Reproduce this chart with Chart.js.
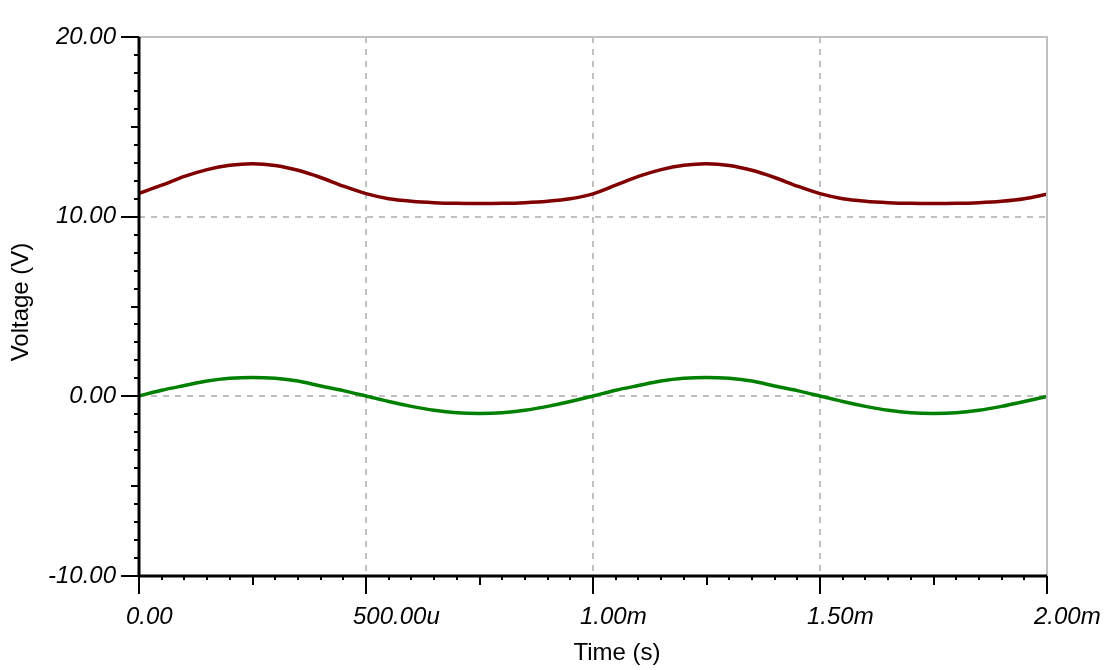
<!DOCTYPE html>
<html>
<head>
<meta charset="utf-8">
<script src="https://cdn.jsdelivr.net/npm/chart.js@4"></script>
<style>
  html, body { margin: 0; padding: 0; background: #fff; }
  #chart { display: block; }
</style>
</head>
<body>
<canvas id="chart" width="1108" height="670"></canvas>
<script>
// ===== Data (time in ms, voltage in V) =====
const timeMs = [
  0.00, 0.05, 0.10, 0.15, 0.20, 0.25, 0.30, 0.35, 0.40, 0.45,
  0.50, 0.55, 0.60, 0.65, 0.70, 0.75, 0.80, 0.85, 0.90, 0.95,
  1.00, 1.05, 1.10, 1.15, 1.20, 1.25, 1.30, 1.35, 1.40, 1.45,
  1.50, 1.55, 1.60, 1.65, 1.70, 1.75, 1.80, 1.85, 1.90, 1.95,
  2.00
];

const outputV = [
  11.30, 11.75, 12.24, 12.62, 12.86, 12.95, 12.85, 12.58, 12.18, 11.70,
  11.28, 11.00, 10.86, 10.78, 10.74, 10.73, 10.74, 10.78, 10.86, 11.00,
  11.27, 11.75, 12.24, 12.62, 12.86, 12.95, 12.85, 12.58, 12.18, 11.70,
  11.28, 11.00, 10.86, 10.78, 10.74, 10.73, 10.74, 10.78, 10.86, 11.00,
  11.25
];

const inputV = [
  0.02, 0.34, 0.60, 0.85, 1.00, 1.05, 1.00, 0.85, 0.58, 0.32,
  0.02, -0.29, -0.56, -0.78, -0.92, -0.96, -0.92, -0.78, -0.56, -0.29,
  0.02, 0.34, 0.60, 0.85, 1.00, 1.05, 1.00, 0.85, 0.58, 0.32,
  0.02, -0.29, -0.56, -0.78, -0.92, -0.96, -0.92, -0.78, -0.56, -0.29,
  0.00
];

const xTickLabels = ["0.00", "500.00u", "1.00m", "1.50m", "2.00m"];
const yTickLabels = ["-10.00", "0.00", "10.00", "20.00"];

const FONT = "'Liberation Sans', Arial, sans-serif";

function toPoints(ys) {
  return timeMs.map((t, i) => ({ x: t, y: ys[i] }));
}

// ===== Axes, ticks, borders and titles =====
const scopeFrame = {
  id: "scopeFrame",
  afterDraw(chart) {
    const { ctx, chartArea: a, scales: { x, y } } = chart;
    ctx.save();

    // gray top / right border
    ctx.strokeStyle = "#c0c0c0";
    ctx.lineWidth = 2;
    ctx.beginPath();
    ctx.moveTo(a.left, a.top);
    ctx.lineTo(a.right, a.top);
    ctx.lineTo(a.right, a.bottom);
    ctx.stroke();

    // black axes
    ctx.strokeStyle = "#000";
    ctx.lineWidth = 3;
    ctx.beginPath();
    ctx.moveTo(a.left, a.top);
    ctx.lineTo(a.left, a.bottom);
    ctx.moveTo(a.left, a.bottom);
    ctx.lineTo(a.right, a.bottom);
    ctx.stroke();

    // y ticks: every 1 V, medium at 5 V, major at 10 V
    ctx.lineWidth = 2;
    ctx.beginPath();
    for (let v = -10; v <= 20; v++) {
      const len = v % 10 === 0 ? 18 : (v % 5 === 0 ? 8 : 5);
      const py = Math.round(y.getPixelForValue(v));
      ctx.moveTo(a.left - len, py);
      ctx.lineTo(a.left, py);
    }
    // x ticks: every 50 us, medium at 250 us, major at 500 us
    for (let k = 0; k <= 40; k++) {
      const len = k % 10 === 0 ? 18 : (k % 5 === 0 ? 9 : 4);
      const px = Math.round(x.getPixelForValue(k * 0.05));
      ctx.moveTo(px, a.bottom);
      ctx.lineTo(px, a.bottom + len);
    }
    ctx.stroke();

    // axis titles
    ctx.fillStyle = "#000";
    ctx.font = "24px " + FONT;
    ctx.textAlign = "center";
    ctx.textBaseline = "alphabetic";
    ctx.fillText("Time (s)", 617, 660);

    ctx.translate(21, 302);
    ctx.rotate(-Math.PI / 2);
    ctx.textBaseline = "middle";
    ctx.fillText("Voltage (V)", 0, 0);

    ctx.restore();
  }
};

// ===== Chart =====
const ctx = document.getElementById("chart").getContext("2d");
new Chart(ctx, {
  type: "line",
  data: {
    datasets: [
      {
        label: "Vout",
        data: toPoints(outputV),
        borderColor: "#800000",
        borderWidth: 3.5,
        pointRadius: 0,
        tension: 0.3,
        fill: false
      },
      {
        label: "Vin",
        data: toPoints(inputV),
        borderColor: "#008000",
        borderWidth: 3.5,
        pointRadius: 0,
        tension: 0.3,
        fill: false
      }
    ]
  },
  options: {
    responsive: false,
    animation: false,
    events: [],
    layout: { padding: { top: 37, right: 61, left: 0, bottom: 0 } },
    plugins: {
      legend: { display: false },
      tooltip: { enabled: false }
    },
    scales: {
      x: {
        type: "linear",
        min: 0,
        max: 2,
        afterFit: (s) => { s.height = 94; s.paddingLeft = 0; s.paddingRight = 0; },
        grid: { color: "#c0c0c0", lineWidth: 2, drawTicks: false },
        border: { display: false, dash: [6, 6] },
        ticks: {
          stepSize: 0.5,
          autoSkip: false,
          maxRotation: 0,
          align: "start",
          labelOffset: -13,
          padding: 27,
          color: "#000",
          font: { family: FONT, size: 24, style: "italic" },
          callback: (v, i) => xTickLabels[i]
        }
      },
      y: {
        type: "linear",
        min: -10,
        max: 20,
        afterFit: (s) => { s.width = 139; s.paddingTop = 0; s.paddingBottom = 0; },
        grid: { color: "#c0c0c0", lineWidth: 2, drawTicks: false },
        border: { display: false, dash: [6, 6] },
        ticks: {
          stepSize: 10,
          padding: 23,
          color: "#000",
          font: { family: FONT, size: 24, style: "italic" },
          callback: (v, i) => yTickLabels[i]
        }
      }
    }
  },
  plugins: [scopeFrame]
});
</script>
</body>
</html>
